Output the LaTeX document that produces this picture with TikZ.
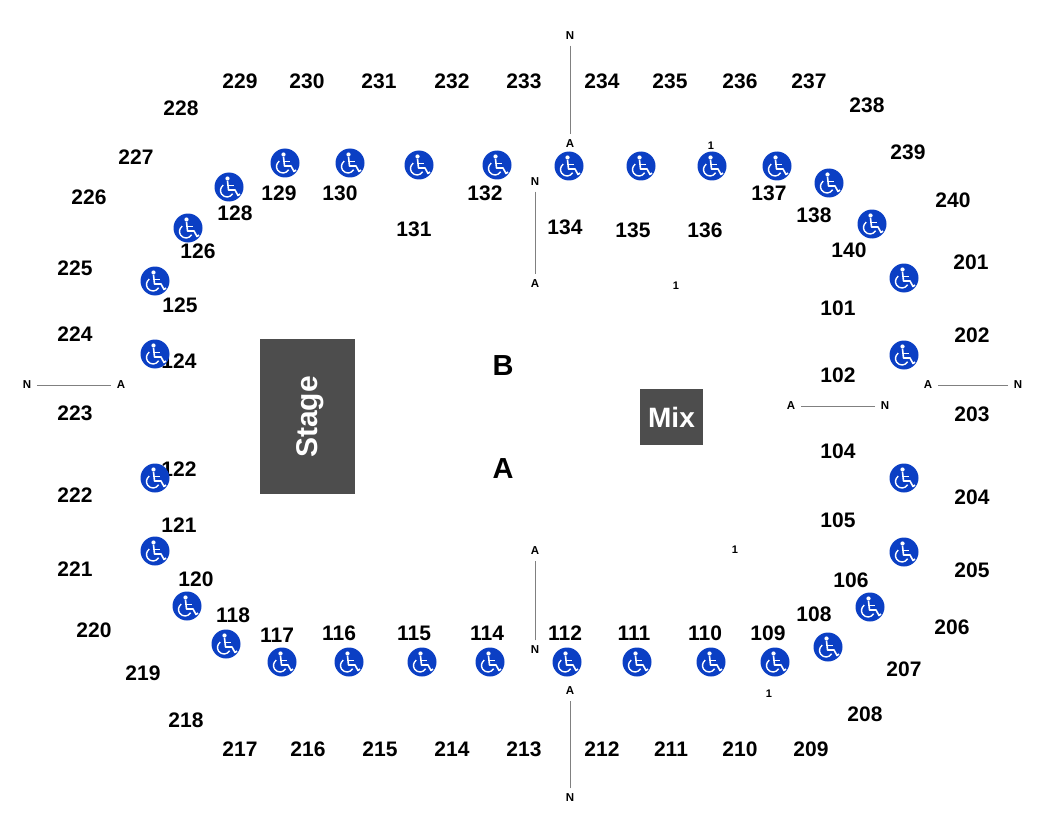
\documentclass[tikz,border=0pt]{standalone}
\usepackage{fontspec}
\setmainfont{Liberation Sans}
\definecolor{chairblue}{HTML}{0B3FC4}
\definecolor{blockgray}{HTML}{4D4D4D}
\tikzset{
  section/.style={font=\bfseries\fontsize{21}{21}\selectfont, inner sep=0pt},
  tag/.style={font=\bfseries\fontsize{11.5}{12}\selectfont, inner sep=5.5pt},
  row/.style={font=\bfseries\fontsize{11}{12}\selectfont, inner sep=0pt},
  aisle/.style={draw=gray, line width=1pt},
  block/.style={fill=blockgray, text=white, font=\bfseries\fontsize{28}{28}\selectfont, inner sep=0pt},
  floor/.style={font=\bfseries\fontsize{29}{29}\selectfont, inner sep=0pt},
  wheelchair/.pic={
    \fill[chairblue] (0,0) circle [radius=14.5];
    \fill[white] (-1.5,-8.5) circle [radius=2.1];
    \draw[white, line width=1.6pt, line join=round] (-1.5,-6) -- (-0.5,3) -- (6,3) -- (9,8.5) -- (11,7);
    \draw[white, line width=1.4pt] (-1,-1.5) -- (5,-1.5);
    \draw[white, line width=1.4pt] (-5.73,-1.82) arc [start angle=235, end angle=30, radius=6.5];
  }
}
\begin{document}
\begin{tikzpicture}[x=1pt,y=-1pt]
\useasboundingbox (0,0) rectangle (1050,840);

% outer ring
\foreach \x/\y/\t in {240/81/229,307/81/230,379/81/231,452/81/232,524/81/233,602/81/234,670/81/235,740/81/236,809/81/237,
  867/105/238,908/152/239,953/200/240,971/262/201,972/335/202,972/414/203,972/497/204,972/570/205,952/627/206,904/669/207,
  865/714/208,811/749/209,740/749/210,671/749/211,602/749/212,524/749/213,452/749/214,380/749/215,308/749/216,240/749/217,
  186/720/218,143/673/219,94/630/220,75/569/221,75/495/222,75/413/223,75/334/224,75/268/225,89/197/226,136/157/227,181/108/228}
  \node[section] (S-\t) at (\x,\y) {\t};

% inner ring
\foreach \x/\y/\t in {279/193/129,340/193/130,414/229/131,485/193/132,565/227/134,633/230/135,705/230/136,769/193/137,
  814/215/138,849/250/140,838/308/101,838/375/102,838/451/104,838/520/105,851/580/106,814/614/108,768/633/109,705/633/110,
  634/633/111,565/633/112,487/633/114,414/633/115,339/633/116,277/635/117,233/615/118,196/579/120,179/525/121,179/469/122,
  179/361/124,180/305/125,198/251/126,235/213/128}
  \node[section] (S-\t) at (\x,\y) {\t};

% row marks
\node[row] (R-1) at (711,146) {1};
\node[row] (R-2) at (676,286) {1};
\node[row] (R-3) at (735,550) {1};
\node[row] (R-4) at (769,694) {1};

% wheelchair spots
\foreach \x/\y in {285/163,350/163,419/165,497/165,569/166,641/166,712/166,777/166,829/183,872/224,904/278,904/355,
  904/478,904/552,870/607,828/647,775/662,711/662,637/662,567/662,490/662,422/662,349/662,282/662,226/644,187/606,
  155/551,155/478,155/354,155/281,188/228,229/187}
  \pic at (\x,\y) {wheelchair};

% aisles
\foreach \i/\nx/\ny/\ax/\ay in {1/570/36/570/144,2/535/182/535/284,3/27/385/121/385,4/1018/385/928/385,
  5/885/406/791/406,6/535/650/535/551,7/570/798/570/691}{
  \node[tag] (N-\i) at (\nx,\ny) {N};
  \node[tag] (A-\i) at (\ax,\ay) {A};
  \draw[aisle] (N-\i) -- (A-\i);
}

\node[block, minimum width=95pt, minimum height=155pt] (stage) at (307.5,416.5) {};
\node[block, font=\bfseries\fontsize{30}{30}\selectfont, rotate=90] (stage-text) at (310,417) {Stage};
\node[block, minimum width=63pt, minimum height=56pt] (mix) at (671.5,417) {Mix};
\node[floor] (B) at (503,366) {B};
\node[floor] (A) at (503,469) {A};
\end{tikzpicture}
\end{document}
